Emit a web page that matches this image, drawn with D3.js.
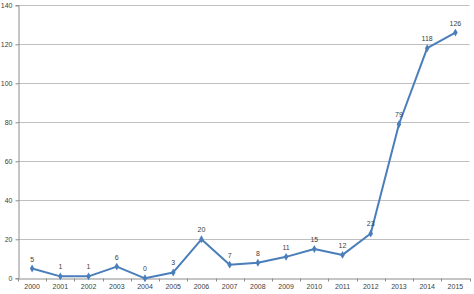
<!DOCTYPE html>
<html>
<head>
<meta charset="utf-8">
<script src="https://cdn.jsdelivr.net/npm/d3@7"></script>
<style>
  body { margin: 0; background: #fff; }
  text { font-family: "Liberation Sans", Arial, sans-serif; }
</style>
</head>
<body>
<div class="root"></div>
<script>
var years = ["2000","2001","2002","2003","2004","2005","2006","2007","2008","2009","2010","2011","2012","2013","2014","2015"];
var counts = [5, 1, 1, 6, 0, 3, 20, 7, 8, 11, 15, 12, 23, 79, 118, 126];
var yTicks = [0, 20, 40, 60, 80, 100, 120, 140];

var width = 474, height = 294;
var plotLeft = 18, plotRight = 469.5, plotTop = 5.3, plotBottom = 278.3;

var svg = d3.select(".root").append("svg")
  .attr("width", width)
  .attr("height", height);

var x = d3.scaleBand().domain(years).range([plotLeft, plotRight]);
var y = d3.scaleLinear().domain([0, 140]).range([plotBottom, plotTop]);

// gridlines
svg.append("g")
  .selectAll("line")
  .data(yTicks.slice(1))
  .enter().append("line")
  .attr("x1", plotLeft)
  .attr("x2", plotRight)
  .attr("y1", function (d) { return Math.round(y(d)) + 0.5; })
  .attr("y2", function (d) { return Math.round(y(d)) + 0.5; })
  .attr("stroke", "#bfbfbf")
  .attr("stroke-width", 1);

// y axis
var yAxis = svg.append("g")
  .attr("transform", "translate(" + (plotLeft + 0.5) + ",0)")
  .call(d3.axisLeft(y).tickValues(yTicks).tickSize(3).tickPadding(3));
yAxis.select(".domain").attr("stroke", "#8c8c8c");
yAxis.selectAll(".tick line").attr("stroke", "#8c8c8c");
yAxis.selectAll("text").attr("font-size", 7).attr("fill", "#404040");

// x axis
var xAxis = svg.append("g")
  .attr("transform", "translate(0," + (Math.round(plotBottom) + 0.5) + ")")
  .call(d3.axisBottom(x).tickSize(0).tickPadding(6));
xAxis.select(".domain").attr("stroke", "#8c8c8c");
xAxis.selectAll("text").attr("font-size", 7).attr("fill", "#404040");
xAxis.append("g")
  .selectAll("line")
  .data(years.concat(["end"]))
  .enter().append("line")
  .attr("x1", function (d, i) { return Math.round(plotLeft + i * x.step()) + 0.5; })
  .attr("x2", function (d, i) { return Math.round(plotLeft + i * x.step()) + 0.5; })
  .attr("y1", 0)
  .attr("y2", 3)
  .attr("stroke", "#8c8c8c");

var cx = function (d, i) { return x(years[i]) + x.bandwidth() / 2; };

// line
var line = d3.line()
  .x(cx)
  .y(function (d) { return y(d); });

svg.append("path")
  .datum(counts)
  .attr("fill", "none")
  .attr("stroke", "#4a7ebb")
  .attr("stroke-width", 2)
  .attr("stroke-linejoin", "round")
  .attr("d", line);

// markers
svg.append("g")
  .selectAll("path")
  .data(counts)
  .enter().append("path")
  .attr("d", d3.symbol().type(d3.symbolDiamond).size(18))
  .attr("transform", function (d, i) { return "translate(" + cx(d, i) + "," + y(d) + ")"; })
  .attr("fill", "#4a7ebb");

// data labels
svg.append("g")
  .selectAll("text")
  .data(counts)
  .enter().append("text")
  .attr("x", cx)
  .attr("y", function (d) { return y(d) - 7; })
  .attr("text-anchor", "middle")
  .attr("font-size", 7)
  .attr("fill", "#404040")
  .text(function (d) { return d; });
</script>
</body>
</html>
